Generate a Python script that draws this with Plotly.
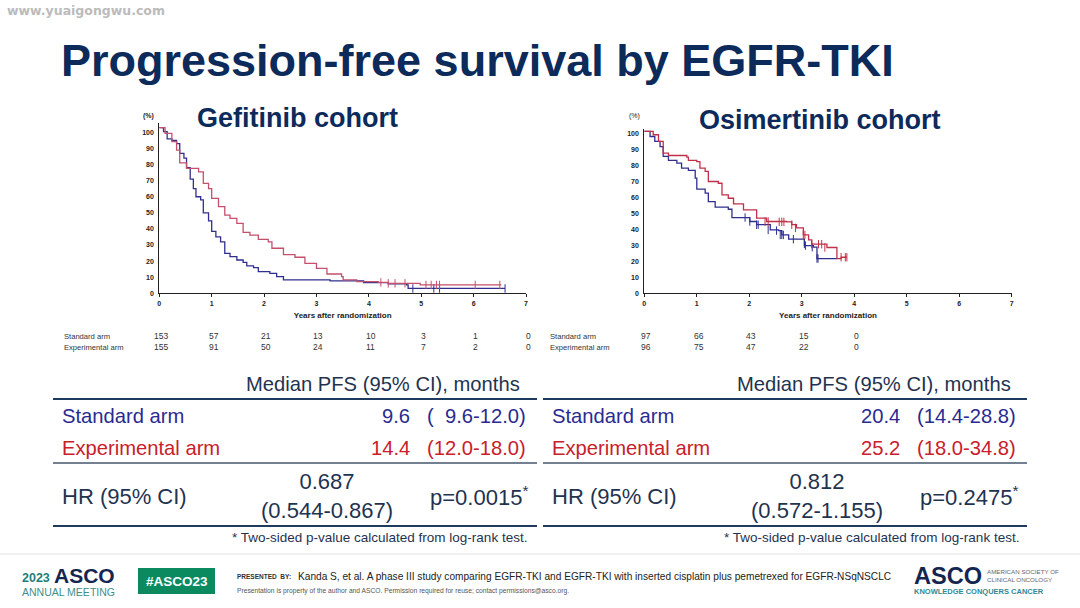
import plotly.graph_objects as go

W = 1080
H = 608
FONT = "Liberation Sans"
NAVY = "#0c2a5a"
DARK = "#1f3350"
BLUE = "#2f2f8f"
RED = "#c03048"
TXT_BLUE = "#2a2a90"
TXT_RED = "#c8202c"

# gefitinib cohort
gef_std_x = [0, .08, .15, .24, .33, .39, .47, .52, .59, .65, .70, .79, .84, .94, 1.0, 1.08, 1.17, 1.25,
             1.35, 1.48, 1.60, 1.67, 1.80, 1.89, 2.11, 2.24, 2.37, 3.26, 3.9, 4.37, 4.72, 4.75, 6.6]
gef_std_y = [103, 100.5, 96, 95, 93, 87, 84, 78, 71, 65, 60, 58, 50, 45, 38.5, 35, 32, 24.8,
             22.8, 20.7, 19.2, 17, 16, 13.5, 12.4, 10.4, 8.3, 7.7, 6.6, 5.8, 5.2, 3, 3]
gef_exp_x = [0, .11, .24, .33, .39, .52, .75, .84, .94, 1.0, 1.13, 1.25, 1.35, 1.48, 1.60, 1.73, 1.89,
             2.08, 2.15, 2.37, 2.59, 2.78, 3.0, 3.2, 3.48, 3.51, 3.77, 4.18, 4.37, 4.98, 6.53]
gef_exp_y = [103, 99.4, 94.2, 89, 81, 77.6, 75.5, 68.3, 65, 59, 53.8, 48.6, 46.6, 43.5, 37.8, 36.2, 33.5,
             32, 28, 24, 22.4, 18.6, 15.5, 12, 10.4, 8.3, 7.2, 6.8, 6.2, 5.2, 5.2]
gef_std_cens_x = [4.84, 5.24, 5.35, 6.6]
gef_std_cens_y = [3, 3, 3, 3]
gef_exp_cens_x = [4.23, 4.37, 4.5, 4.69, 5.09, 5.19, 5.29, 5.35, 6.03, 6.5]
gef_exp_cens_y = [6.8, 6.2, 6.2, 6.2, 5.2, 5.2, 5.2, 5.2, 5.2, 5.2]

# osimertinib cohort
osi_std_x = [0, .11, .20, .30, .36, .46, .62, .71, .84, .97, 1.0, 1.16, 1.22, 1.35, 1.60, 1.67, 1.92,
             2.01, 2.14, 2.36, 2.40, 2.56, 2.62, 2.75, 3.0, 3.05, 3.22, 3.29, 3.67]
osi_std_y = [101.5, 98.3, 95.2, 92, 85.8, 83.3, 81.6, 78.5, 77, 72.2, 65.3, 62.8, 57.5, 54, 52.7, 47.5, 47.5,
             45, 43, 43, 39.7, 39.3, 36.6, 33.9, 33.9, 29.9, 28.9, 21.8, 21.8]
osi_exp_x = [0, .17, .27, .36, .46, .81, .84, 1.0, 1.06, 1.16, 1.22, 1.41, 1.48, 1.60, 1.70, 1.89,
             2.14, 2.33, 2.71, 2.81, 2.90, 3.03, 3.13, 3.19, 3.48, 3.67, 3.75, 3.86]
osi_exp_y = [101.5, 99.4, 95.2, 87.9, 86.4, 85.4, 83.3, 82.6, 78.5, 76.4, 70.1, 69, 61.7, 59.6, 56, 52.3,
             47.1, 45, 44.8, 43, 41, 36.6, 33.5, 30.8, 28.7, 21.8, 22.6, 22.6]
osi_std_cens_x = [1.92, 2.01, 2.14, 2.17, 2.36, 2.52, 2.59, 2.62, 2.65, 2.84, 3.05, 3.07, 3.2, 3.29, 3.31]
osi_std_cens_y = [47.5, 45, 43, 43, 39.7, 39.3, 36.6, 36.6, 36.6, 33.9, 31, 29.9, 28.9, 21.8, 21.8]
osi_exp_cens_x = [2.3, 2.36, 2.57, 2.62, 2.66, 2.81, 2.88, 3.03, 3.06, 3.19, 3.32, 3.38, 3.44, 3.75, 3.83, 3.86]
osi_exp_cens_y = [45, 45, 44.8, 44.8, 44.8, 43, 41, 36.6, 36.6, 30.8, 30.8, 30.8, 28.7, 22.6, 22.6, 22.6]

# numbers at risk
gef_years = [0, 1, 2, 3, 4, 5, 6, 7]
gef_risk_std = [153, 57, 21, 13, 10, 3, 1, 0]
gef_risk_exp = [155, 91, 50, 24, 11, 7, 2, 0]
osi_years = [0, 1, 2, 3, 4]
osi_risk_std = [97, 66, 43, 15, 0]
osi_risk_exp = [96, 75, 47, 22, 0]

# PFS tables
table_head = "Median PFS (95% CI), months"
row_labels = ["Standard arm", "Experimental arm", "HR (95% CI)"]
gef_median = ["9.6", "14.4"]
gef_ci = ["(  9.6-12.0)", "(12.0-18.0)"]
gef_hr = "0.687<br>(0.544-0.867)"
gef_p = "p=0.0015<sup>*</sup>"
osi_median = ["20.4", "25.2"]
osi_ci = ["(14.4-28.8)", "(18.0-34.8)"]
osi_hr = "0.812<br>(0.572-1.155)"
osi_p = "p=0.2475<sup>*</sup>"
footnote = "* Two-sided p-value calculated from log-rank test."


def txt(x, y, text, size, color=DARK, anchor="left", bold=False, family=FONT, **kw):
    # x, y are pixels on the slide
    if bold:
        text = f"<b>{text}</b>"
    fig.add_annotation(x=x / W, y=1 - y / H, xref="paper", yref="paper", text=text, showarrow=False,
                       xanchor=anchor, yanchor="middle", align=anchor,
                       font=dict(family=family, size=size, color=color), **kw)


def hline(x0, x1, y, color="#1f3a5f", width=2):
    fig.add_shape(type="line", xref="paper", yref="paper", x0=x0 / W, x1=x1 / W,
                  y0=1 - y / H, y1=1 - y / H, line=dict(color=color, width=width))


def km(x, y, cx, cy, color, xa, ya):
    fig.add_trace(go.Scatter(x=x, y=y, mode="lines", line=dict(color=color, width=1.3, shape="hv"),
                             xaxis=xa, yaxis=ya, showlegend=False))
    fig.add_trace(go.Scatter(x=cx, y=cy, mode="markers",
                             marker=dict(symbol="line-ns", size=6, line=dict(color=color, width=1)),
                             xaxis=xa, yaxis=ya, showlegend=False))


fig = go.Figure()
km(gef_std_x, gef_std_y, gef_std_cens_x, gef_std_cens_y, BLUE, "x", "y")
km(gef_exp_x, gef_exp_y, gef_exp_cens_x, gef_exp_cens_y, "#c4506c", "x", "y")
km(osi_std_x, osi_std_y, osi_std_cens_x, osi_std_cens_y, BLUE, "x2", "y2")
km(osi_exp_x, osi_exp_y, osi_exp_cens_x, osi_exp_cens_y, RED, "x2", "y2")

x_common = dict(range=[0, 7], dtick=1, showgrid=False, zeroline=False, showline=True, linecolor="#222", linewidth=1,
                ticks="outside", ticklen=3, tickwidth=1, tickcolor="#222",
                tickfont=dict(family=FONT, size=7, color="#222", weight=700),
                title=dict(text="<b>Years after randomization</b>", standoff=6,
                           font=dict(family=FONT, size=8, color="#222")))
y_common = dict(tickvals=list(range(0, 101, 10)), showgrid=False, zeroline=False, showline=True, linecolor="#222",
                linewidth=1, ticks="", ticklabelstandoff=3, tickfont=dict(family=FONT, size=7, color="#222", weight=700))

fig.update_layout(
    width=W, height=H, margin=dict(l=0, r=0, t=0, b=0, autoexpand=False), paper_bgcolor="white", plot_bgcolor="white",
    xaxis=dict(domain=[159.3 / W, 526 / W], anchor="y", **x_common),
    yaxis=dict(domain=[1 - 293.3 / H, 1 - 122.7 / H], range=[0, 106], anchor="x", **y_common),
    xaxis2=dict(domain=[644.3 / W, 1011.7 / W], anchor="y2", **x_common),
    yaxis2=dict(domain=[1 - 293.3 / H, 1 - 129 / H], range=[0, 103], anchor="x2", **y_common),
)

# header
txt(5, 11, "www.yuaigongwu.com", 12.5, color="#bbbbbb", bold=True, family="DejaVu Sans")
txt(59, 61, "Progression-free survival by EGFR-TKI", 45, color=NAVY, bold=True)
txt(195, 118, "Gefitinib cohort", 27, color=NAVY, bold=True)
txt(697, 120, "Osimertinib cohort", 27, color=NAVY, bold=True)
txt(141, 116, "(%)", 7, color="#222", bold=True)
txt(627, 116, "(%)", 7, color="#222")

# numbers at risk
for base, years, std, exp, xref in [(62, gef_years, gef_risk_std, gef_risk_exp, "x"),
                                    (548, osi_years, osi_risk_std, osi_risk_exp, "x2")]:
    txt(base, 336, "Standard arm", 7.6, color="#333")
    txt(base, 347, "Experimental arm", 7.6, color="#333")
    for yr, a, b in zip(years, std, exp):
        for val, ypx in [(a, 336), (b, 347)]:
            fig.add_annotation(x=yr, y=1 - ypx / H, xref=xref, yref="paper", text=str(val), showarrow=False,
                               xshift=2, xanchor="center", yanchor="middle",
                               font=dict(family=FONT, size=8.5, color="#333"))

# PFS tables
for off, median, ci, hr, p in [(0, gef_median, gef_ci, gef_hr, gef_p), (490, osi_median, osi_ci, osi_hr, osi_p)]:
    hline(53 + off, 537 + off, 399)
    hline(53 + off, 537 + off, 463, color="#44566c", width=1.5)
    hline(53 + off, 537 + off, 526)
    txt(522 + off + off // 490, 384, table_head, 20.2, anchor="right")
    txt(60 + off, 416, row_labels[0], 20.2, color=TXT_BLUE)
    txt(60 + off, 448, row_labels[1], 20.2, color=TXT_RED)
    txt(60 + off, 496, row_labels[2], 22)
    txt(412 + off, 416, median[0], 20.2, color=TXT_BLUE, anchor="right")
    txt(412 + off, 448, median[1], 20.2, color=TXT_RED, anchor="right")
    txt(528 + off, 416, ci[0], 20.2, color=TXT_BLUE, anchor="right")
    txt(528 + off, 448, ci[1], 20.2, color=TXT_RED, anchor="right")
    txt(327 + off, 496, hr, 22, anchor="center")
    txt(530 + off, 496, p, 22, anchor="right")
    txt(529 + off + 2 * (off // 490), 537, footnote, 13.5, anchor="right")

# footer
hline(0, W, 554, color="#e2e2e2", width=1)
txt(20, 578, "2023", 12.5, color="#1d7f78", bold=True)
txt(52, 575, "ASCO", 21, color="#14264f", bold=True)
txt(20, 592, "ANNUAL MEETING", 10.5, color="#3e8f8a")
fig.add_shape(type="rect", xref="paper", yref="paper", x0=138 / W, x1=215 / W, y0=1 - 594 / H, y1=1 - 568 / H,
              fillcolor="#0b8a60", line_width=0)
txt(176.5, 581, "#ASCO23", 13.5, color="white", anchor="center", bold=True)
txt(235, 576, "PRESENTED  BY:", 6.5, color="#333", bold=True)
txt(296, 576, "Kanda S, et al. A phase III study comparing EGFR-TKI and EGFR-TKI with inserted cisplatin plus pemetrexed for EGFR-NSqNSCLC", 10.15, color="#222")
txt(235, 591, "Presentation is property of the author and ASCO. Permission required for reuse; contact permissions@asco.org.", 6.7, color="#555")
txt(912, 576, "ASCO", 23.6, color="#14264f", bold=True)
txt(985, 571, "AMERICAN SOCIETY OF", 6.2, color="#666")
txt(985, 579, "CLINICAL ONCOLOGY", 6.2, color="#666")
txt(912, 591, "KNOWLEDGE CONQUERS CANCER", 7.5, color="#2f8a98", bold=True)

# drop the browser's default page margin so the slide sits at 0,0
fig.write_html("out.html", config={"displayModeBar": False},
               post_script="document.body.style.margin='0';")
